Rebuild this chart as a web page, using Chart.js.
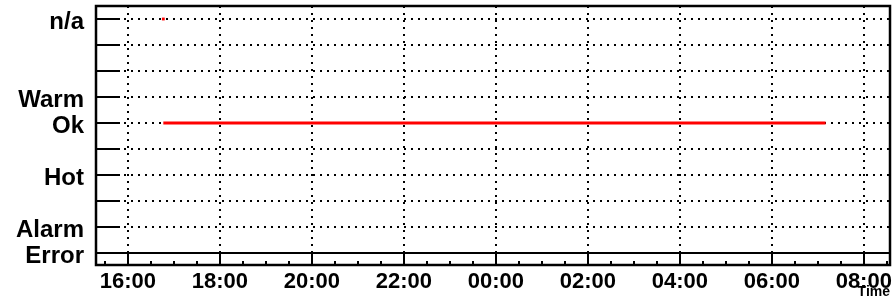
<!DOCTYPE html>
<html>
<head>
<meta charset="utf-8">
<script src="https://cdn.jsdelivr.net/npm/chart.js@4.4.0/dist/chart.umd.min.js"></script>
<style>
  html, body { margin: 0; padding: 0; background: #fff; }
</style>
</head>
<body>
<canvas id="myChart" width="894" height="303"></canvas>
<script>
// status levels, bottom to top (blank rows are unnamed levels)
const stateLabels = ["Error", "Alarm", "", "Hot", "", "Ok", "Warm", "", "", "n/a"];

// hours since midnight of day 1 (24 = 00:00 next day)
const okHours = [16.77, 31.17];
const okStates = ["Ok", "Ok"];
const naHours = [16.77];
const naStates = ["n/a"];

const tickHours = [16, 18, 20, 22, 24, 26, 28, 30, 32];
const tickLabels = ["16:00", "18:00", "20:00", "22:00", "00:00", "02:00", "04:00", "06:00", "08:00"];

const xMin = 15.306, xMax = 32.57;
const yMin = -0.46, yMax = 9.5;

const fontFamily = "'Liberation Sans', Arial, Helvetica, sans-serif";

function toPoints(hours, states) {
  return hours.map((h, i) => ({ x: h, y: stateLabels.indexOf(states[i]) }));
}

const framePlugin = {
  id: 'frame',
  afterDraw(chart) {
    const ctx = chart.ctx;
    const a = chart.chartArea;
    const x = chart.scales.x, y = chart.scales.y;
    const line = (x1, y1, x2, y2) => {
      ctx.beginPath(); ctx.moveTo(x1, y1); ctx.lineTo(x2, y2); ctx.stroke();
    };
    ctx.save();
    ctx.strokeStyle = '#000';
    ctx.setLineDash([]);

    // solid line on the lowest level
    ctx.lineWidth = 2;
    const y0 = Math.round(y.getPixelForValue(0));
    line(a.left, y0, a.right, y0);

    // y ticks pointing inwards
    y.ticks.forEach(t => {
      const py = Math.round(y.getPixelForValue(t.value));
      line(a.left, py, a.left + 24, py);
    });

    // x major and minor ticks (every half hour)
    for (let h = Math.ceil(xMin * 2) / 2; h <= xMax; h += 0.5) {
      const px = Math.round(x.getPixelForValue(h));
      const major = tickHours.includes(h);
      line(px, a.bottom, px, a.bottom - (major ? 12 : 4));
    }

    // frame
    ctx.lineWidth = 2.5;
    ctx.strokeRect(a.left, a.top, a.right - a.left, a.bottom - a.top);
    ctx.restore();
  }
};

new Chart("myChart", {
  type: "scatter",
  data: {
    datasets: [{
      data: toPoints(okHours, okStates),
      showLine: true,
      borderColor: "#ff0000",
      backgroundColor: "#ff0000",
      borderWidth: 3,
      pointRadius: 0
    }, {
      data: toPoints(naHours, naStates),
      showLine: false,
      borderColor: "#ff0000",
      backgroundColor: "#ff0000",
      pointStyle: "rect",
      pointRadius: 2,
      borderWidth: 0
    }]
  },
  options: {
    responsive: false,
    animation: false,
    layout: { padding: { top: 6, right: 2, left: 0, bottom: 0 } },
    plugins: {
      legend: { display: false },
      tooltip: { enabled: false }
    },
    scales: {
      x: {
        type: "linear",
        min: xMin,
        max: xMax,
        afterBuildTicks: s => { s.ticks = tickHours.map(v => ({ value: v })); },
        afterFit: s => { s.height = 38; s.paddingLeft = 0; s.paddingRight = 0; },
        grid: { color: "#000", lineWidth: 2, drawTicks: false },
        border: { display: false, dash: [2, 5] },
        ticks: {
          autoSkip: false,
          maxRotation: 0,
          padding: 4,
          color: "#000",
          font: { family: fontFamily, size: 22, weight: "bold" },
          callback: v => tickLabels[tickHours.indexOf(v)]
        },
        title: {
          display: true,
          text: "Time",
          align: "end",
          color: "#000",
          padding: { top: 0, bottom: 2 },
          font: { family: fontFamily, size: 14, weight: "bold" }
        }
      },
      y: {
        type: "linear",
        min: yMin,
        max: yMax,
        afterBuildTicks: s => { s.ticks = stateLabels.map((l, i) => ({ value: i })); },
        afterFit: s => { s.width = 96; s.paddingTop = 0; s.paddingBottom = 0; },
        grid: { color: "#000", lineWidth: 2, drawTicks: false },
        border: { display: false, dash: [2, 5] },
        ticks: {
          autoSkip: false,
          padding: 12,
          labelOffset: 3,
          color: "#000",
          font: { family: fontFamily, size: 24, weight: "bold" },
          callback: v => stateLabels[v]
        }
      }
    }
  },
  plugins: [framePlugin]
});
</script>
</body>
</html>
